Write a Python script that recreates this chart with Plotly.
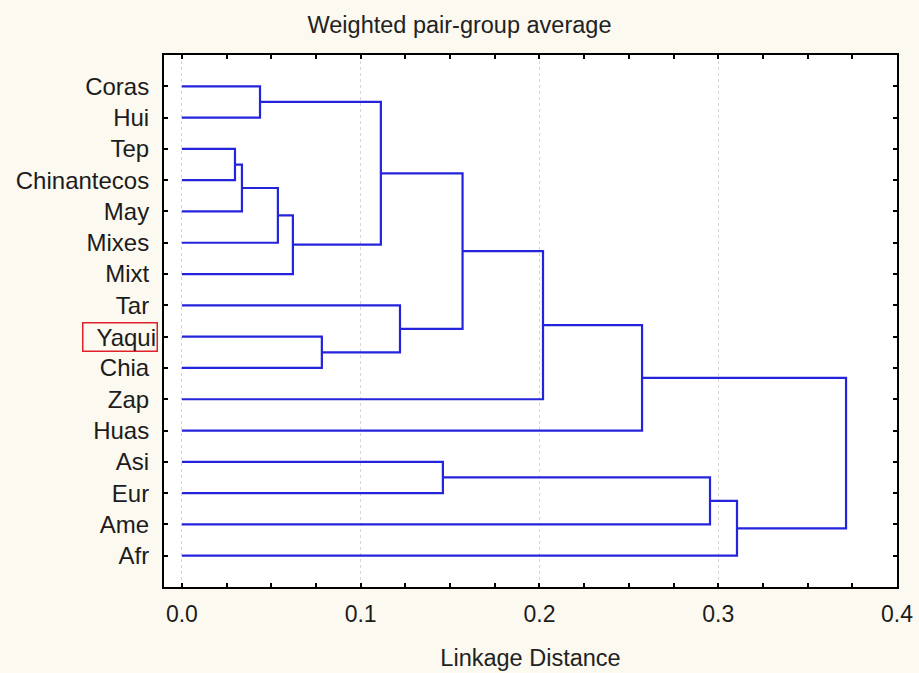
import plotly.graph_objects as go

# ---- data ----
leaves = ["Coras", "Hui", "Tep", "Chinantecos", "May", "Mixes", "Mixt", "Tar",
          "Yaqui", "Chia", "Zap", "Huas", "Asi", "Eur", "Ame", "Afr"]
# merges: (left child, right child, linkage distance); "#k" refers to merge k
merge_left = ["Coras", "Tep", "#1", "#2", "#3", "#0", "Yaqui", "Tar", "#5", "#8", "#9", "Asi", "#11", "#12", "#10"]
merge_right = ["Hui", "Chinantecos", "May", "Mixes", "Mixt", "#4", "Chia", "#6", "#7", "Zap", "Huas", "Eur", "Ame", "Afr", "#13"]
merge_height = [0.0437, 0.0297, 0.0336, 0.0537, 0.0621, 0.1113, 0.0783, 0.1220,
                0.1570, 0.2020, 0.2574, 0.1460, 0.2954, 0.3105, 0.3715]
x_ticks = [0.0, 0.1, 0.2, 0.3, 0.4]
x_tick_labels = ["0.0", "0.1", "0.2", "0.3", "0.4"]
highlight = "Yaqui"

# ---- build dendrogram segments ----
pos = {name: (0.0, float(i)) for i, name in enumerate(leaves)}
xs, ys = [], []
for k, (a, b, h) in enumerate(zip(merge_left, merge_right, merge_height)):
    xa, ya = pos[a]
    xb, yb = pos[b]
    xs += [xa, h, h, xb, None]
    ys += [ya, ya, yb, yb, None]
    pos["#%d" % k] = (h, (ya + yb) / 2)

FONT = "Liberation Sans, Arial, sans-serif"
blue = "#2424dc"
txt = "#1c1c1c"

fig = go.Figure()
fig.add_trace(go.Scatter(x=xs, y=ys, mode="lines",
                         line=dict(color=blue, width=2.2), hoverinfo="skip",
                         showlegend=False))

hi = leaves.index(highlight)
ticktext = [("" if n == highlight else n) for n in leaves]

fig.add_annotation(xref="paper", yref="y", x=0, y=hi, xanchor="right", yanchor="middle",
                   xshift=-6, text="  " + highlight, showarrow=False,
                   font=dict(family=FONT, size=24, color=txt),
                   bordercolor="#e0202a", borderwidth=1.5, borderpad=0)

fig.update_layout(
    width=919, height=673,
    margin=dict(l=164, r=22, t=55, b=86),
    paper_bgcolor="#fcf9f0",
    plot_bgcolor="white",
    title=dict(text="Weighted pair-group average", x=0.5, xref="container", xanchor="center",
               y=1 - 25 / 673, yref="container", yanchor="middle",
               font=dict(family=FONT, size=23.5, color="#222222")),
    font=dict(family=FONT, size=24, color=txt),
    xaxis=dict(range=[-0.01, 0.4], tickvals=x_ticks, ticktext=x_tick_labels,
               ticks="inside", ticklen=4, tickcolor="black", tickwidth=1.5,
               minor=dict(dtick=0.025, tick0=0, ticks="inside", ticklen=4, tickcolor="black", showgrid=False),
               showline=True, linecolor="black", linewidth=2, mirror="allticks",
               showgrid=True, gridcolor="#d6d6d6", griddash="dot", gridwidth=1,
               zeroline=False, ticklabelstandoff=5, automargin=False,
               title=dict(text="Linkage Distance", standoff=24,
                          font=dict(family=FONT, size=23.5, color="#222222")),
               tickfont=dict(family=FONT, size=23, color=txt)),
    yaxis=dict(range=[16, -1], tickvals=list(range(len(leaves))), ticktext=ticktext,
               ticks="inside", ticklen=4, tickcolor="black", tickwidth=1.5,
               showline=True, linecolor="black", linewidth=2, mirror="allticks",
               showgrid=False, zeroline=False, ticklabelstandoff=8, automargin=False,
               tickfont=dict(family=FONT, size=24, color=txt)),
)

fig.write_html("out.html")
